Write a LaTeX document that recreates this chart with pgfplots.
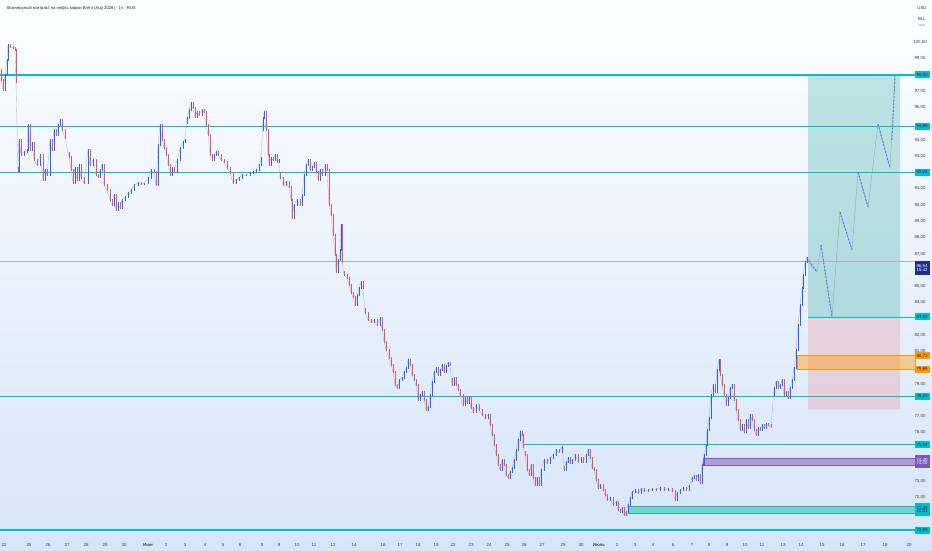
\documentclass[border=0pt]{standalone}
\usepackage{pgfplots}
\pgfplotsset{compat=1.18}
\usepackage{pgfplotstable}
\usepackage{fontspec}
\setmainfont{Liberation Sans}
\definecolor{tvcyan}{RGB}{0,188,212}
\definecolor{tvup}{RGB}{41,98,255}
\definecolor{tvdn}{RGB}{225,85,100}
\definecolor{wick}{RGB}{150,158,190}
\definecolor{bgtop}{RGB}{253,254,255}
\definecolor{bgbot}{RGB}{214,229,248}
\definecolor{tvorange}{RGB}{255,152,0}
\definecolor{tvpurple}{RGB}{126,87,194}
\definecolor{tvteal}{RGB}{38,166,154}
\definecolor{tvred}{RGB}{242,54,69}
\definecolor{navy}{RGB}{26,46,150}
\newcommand{\tl}{\fontsize{4.4}{5}\selectfont}

\pgfplotstableread{
x o c
1 98.30 97.69
3 97.69 97.08
5 97.08 98.00
7 98.00 98.92
8 98.92 99.85
10 99.85 99.72
13 99.72 99.66
15 99.66 99.54
16 99.54 97.57
18 92.30 92.03
19 92.03 94.00
21 94.00 93.08
24 93.08 93.26
27 93.26 93.38
28 93.38 94.92
30 94.92 93.38
32 93.38 93.82
34 93.82 92.77
37 92.77 92.46
40 92.46 93.08
43 93.08 91.54
45 91.54 92.15
47 92.15 91.85
50 91.85 94.00
52 94.00 93.38
54 93.38 94.62
56 94.62 94.31
58 94.31 94.92
60 94.92 95.23
62 95.23 94.62
65 94.62 94.12
69 93.20 92.95
71 92.95 92.15
73 92.15 91.35
75 91.35 92.28
77 92.28 91.54
79 91.54 92.46
81 92.46 91.66
84 91.66 91.35
88 91.35 93.38
90 93.38 92.46
93 92.46 92.77
96 92.77 91.85
98 91.85 91.72
100 91.72 92.15
102 92.15 92.46
104 92.46 91.23
107 91.23 90.92
110 90.92 90.31
112 90.31 90.00
114 90.00 90.62
116 90.62 89.69
118 89.69 90.12
120 90.12 89.82
122 89.82 90.31
125 90.31 90.49
128 90.49 90.74
131 90.74 90.92
134 90.92 91.23
138 91.23 91.35
141 91.35 91.29
144 91.29 91.32
148 91.32 91.66
151 91.66 92.15
154 92.15 92.03
156 92.03 91.23
158 91.23 93.69
160 93.69 94.92
162 94.92 94.00
164 94.00 93.51
166 93.51 93.08
168 93.08 92.46
170 92.46 91.85
172 91.85 92.28
174 92.28 92.03
177 92.03 92.77
180 92.77 93.51
183 93.51 93.88
185 93.88 94.00
187 95.00 95.35
189 95.35 95.85
191 95.85 96.28
193 96.28 95.97
195 95.97 95.42
197 95.42 95.72
199 95.72 95.54
202 95.54 95.85
204 95.85 95.72
206 95.72 94.92
208 94.92 94.31
210 94.31 93.08
212 93.08 92.77
214 92.77 93.08
216 93.08 93.26
218 93.26 93.08
221 93.08 92.77
224 92.77 92.65
227 92.65 92.28
230 92.28 91.97
233 91.97 91.35
236 91.35 91.54
239 91.54 91.66
242 91.66 91.85
246 91.85 91.80
250 91.80 91.97
253 91.97 92.03
256 92.03 92.15
259 92.15 92.46
261 92.46 92.89
263 94.60 95.35
264 95.35 95.72
266 95.72 94.62
268 94.62 93.08
269 93.08 92.46
271 92.46 92.89
273 92.89 92.77
275 92.77 93.08
277 93.08 92.65
279 92.65 92.77
280 92.00 91.66
283 91.66 91.23
286 91.23 91.42
289 91.42 91.11
291 91.11 90.31
292 90.31 89.20
294 89.20 90.00
297 90.00 90.31
300 90.31 90.00
302 90.00 90.62
304 90.62 91.85
306 91.85 92.46
308 92.46 92.77
310 92.77 92.15
312 92.15 92.34
314 92.34 92.58
316 92.58 92.03
318 92.03 91.54
320 91.54 92.15
322 92.15 91.85
325 91.85 92.46
327 92.46 92.15
329 92.15 90.00
331 90.00 89.38
333 89.38 88.15
335 88.15 86.92
336 86.92 85.88
338 85.88 86.62
340 86.62 87.23
341 87.23 88.77
342 88.77 86.49
344 85.90 85.69
347 85.69 85.51
349 85.51 85.08
351 85.08 84.58
353 84.58 84.34
355 84.34 83.85
357 83.85 84.46
359 84.46 84.89
361 84.89 85.26
363 85.26 84.89
365 83.60 83.35
368 83.35 82.92
371 82.92 82.80
374 82.80 82.92
377 82.92 82.62
380 82.62 83.05
382 83.05 82.31
384 82.31 81.57
386 81.57 81.08
389 81.08 80.58
391 80.58 80.15
393 80.15 79.72
395 79.72 78.92
397 78.92 78.74
399 78.74 79.23
402 79.23 79.35
404 79.35 79.72
406 79.72 79.97
408 79.97 80.46
410 80.46 80.15
412 80.15 79.54
414 79.54 79.23
416 79.23 78.92
418 78.92 78.00
420 78.00 78.31
422 78.31 78.49
424 78.49 78.00
426 78.00 77.38
428 77.38 77.57
430 77.57 78.31
432 78.31 79.11
434 79.11 79.72
436 79.72 79.97
438 79.97 79.54
440 79.54 79.85
442 79.85 80.15
444 80.15 79.72
446 79.72 80.09
448 80.09 80.28
450 80.28 80.15
452 79.30 78.92
454 78.92 79.35
456 79.35 78.92
458 78.92 78.62
460 78.62 78.31
463 78.31 77.69
465 77.69 78.12
467 78.12 77.82
469 77.82 78.18
471 78.18 77.51
473 77.51 77.26
476 77.26 77.69
479 77.69 77.38
482 77.38 77.08
485 77.08 76.89
488 76.89 77.08
490 77.08 76.46
492 76.46 75.85
494 75.85 75.23
496 75.23 74.62
498 74.62 74.00
500 74.00 73.69
502 73.69 74.31
504 74.31 74.00
506 74.00 73.38
508 73.38 73.20
510 73.20 73.57
512 73.57 73.82
514 73.82 74.31
516 74.31 74.92
518 74.92 75.54
520 75.54 76.03
522 76.03 75.85
523 75.85 75.11
525 74.80 74.62
527 74.62 73.69
529 73.69 73.38
531 73.38 74.00
533 74.00 73.20
535 73.20 72.77
537 72.77 73.20
539 73.20 72.77
541 72.77 73.69
544 73.69 74.31
547 74.31 74.12
550 74.12 74.43
553 74.43 74.62
556 74.62 74.92
559 74.92 74.80
562 74.80 75.11
564 73.90 73.69
566 73.69 74.18
568 74.18 74.43
570 74.43 74.12
572 74.12 74.31
575 74.31 74.62
578 74.62 74.18
581 74.18 74.43
583 74.43 74.18
586 74.18 74.62
588 74.62 74.92
590 74.92 74.43
592 74.43 73.82
594 73.82 73.69
596 73.69 73.08
598 73.08 72.58
600 72.58 72.77
603 72.77 72.46
605 72.46 72.15
607 72.15 71.85
610 71.85 71.97
613 71.97 71.54
616 71.54 71.72
618 71.72 71.23
620 71.23 71.11
622 71.11 71.35
624 71.35 70.92
626 70.92 71.11
628 71.11 71.54
630 71.54 71.97
632 71.97 72.34
635 72.34 72.46
638 72.46 72.28
641 72.28 72.52
644 72.52 72.40
648 72.40 72.46
652 72.46 72.52
656 72.52 72.46
660 72.46 72.58
664 72.58 72.46
668 72.46 72.52
672 72.52 72.40
675 72.40 71.85
677 71.85 72.28
680 72.28 72.46
683 72.46 72.58
686 72.58 72.46
689 72.46 72.71
692 73.00 73.20
694 73.20 73.32
696 73.32 73.08
698 73.08 73.38
700 73.38 72.89
702 72.89 74.00
704 74.00 74.62
706 74.62 75.23
707 75.23 76.15
709 76.15 76.89
711 76.89 78.31
713 78.31 78.92
715 78.92 78.49
717 78.49 79.85
719 79.85 80.46
720 80.46 79.54
722 79.54 78.92
724 78.92 78.31
726 78.31 77.69
728 77.69 78.12
730 78.12 78.74
732 78.74 78.92
734 78.92 78.00
736 78.00 77.38
738 77.38 76.77
740 76.77 76.15
742 76.15 76.46
744 76.46 76.03
746 76.03 76.77
748 76.77 76.28
750 76.28 77.08
752 77.08 76.77
754 76.77 76.15
756 76.15 75.85
758 75.85 76.28
760 76.28 76.15
762 76.15 76.46
764 76.46 76.28
766 76.28 76.52
768 76.52 76.46
771 76.46 76.34
774 78.30 78.74
776 78.74 79.11
778 79.11 78.74
780 78.74 78.92
782 78.92 79.23
784 79.23 78.31
786 78.31 78.49
788 78.49 78.12
790 78.12 78.74
792 78.74 79.23
794 79.23 79.97
796 79.97 81.08
798 81.08 82.62
800 82.62 83.85
802 83.85 84.89
803 84.89 85.69
805 85.69 86.49
807 86.49 86.74
}\candles

\pgfplotstableread{
x y
807 86.74
810 86.40
813 86.12
817 85.88
821 87.54
832 83.11
840 89.57
852 87.23
858 92.03
868 89.88
878 94.98
890 92.28
895 97.95
}\projection

\pgfplotstableread{
x y
807 86.74
817 85.88
nan nan
821 87.54
832 83.11
nan nan
840 89.57
852 87.23
nan nan
858 92.03
868 89.88
nan nan
878 94.98
890 92.28
nan nan
892 94.00
895 97.95
}\projdown

\begin{document}
\begin{tikzpicture}
\useasboundingbox (0,0) rectangle (932pt,550pt);
\begin{axis}[
  at={(0,0)}, anchor=south west,
  scale only axis, width=932pt, height=550pt,
  xmin=0, xmax=932, ymin=68.769, ymax=102.615,
  axis line style={draw=none},
  axis background/.style={shade, top color=bgtop, bottom color=bgbot},
  major tick length=0pt,
  ytick={72,73,76,77,79,81,82,84,85,87,88,89,90,91,93,94,96,97,99,100},
  yticklabel pos=right,
  yticklabel style={anchor=center, xshift=-12pt, font=\tl, text=black!75,
     /pgf/number format/.cd, fixed, fixed zerofill, precision=2, use comma, assume math mode=true},
  xtick={4,29,48,67,86,105,124,148,166,185,205,223,240,262,279,297,314,333,354,383,400,418,436,453,471,489,507,524,542,563,581,599,617,635,653,673,692,709,727,745,762,783,801,822,842,863,885,909},
  xticklabels={22,25,26,27,28,29,30,\textbf{Июн},2,3,4,5,6,8,9,10,11,12,14,16,17,18,19,22,23,24,25,26,27,29,30,\textbf{Июль},2,3,4,6,7,8,9,10,11,13,14,15,16,17,18,20},
  xticklabel style={anchor=center, yshift=5pt, font=\tl, text=black!75},
  clip=false,
  unbounded coords=jump,
]
% target and stop boxes
\addplot[draw=none, fill=tvteal, fill opacity=0.28, forget plot] coordinates {(808,98) (900,98) (900,83.11) (808,83.11) (808,98)};
\addplot[draw=none, fill=tvred, fill opacity=0.16, forget plot] coordinates {(808,83.11) (900,83.11) (900,77.42) (808,77.42) (808,83.11)};
% zones
\addplot[draw=tvorange, line width=0.7pt, fill=tvorange, fill opacity=0.4, forget plot] coordinates {(797,80.72) (915,80.72) (915,79.88) (797,79.88) (797,80.72)};
\addplot[draw=tvpurple, line width=0.7pt, fill=tvpurple!70, fill opacity=0.8, forget plot] coordinates {(703,74.40) (915,74.40) (915,74.00) (703,74.00) (703,74.40)};
\addplot[draw=tvteal!80!green, line width=0.7pt, fill=tvcyan!60!tvteal!70, fill opacity=0.75, forget plot] coordinates {(628,71.45) (915,71.45) (915,71.04) (628,71.04) (628,71.45)};
% current price line
\addplot[black!30, line width=0.35pt, forget plot] coordinates {(0,86.54) (915,86.54)};
% horizontal levels
\addplot[tvcyan, line width=1.3pt, forget plot] coordinates {(0,98) (915,98)};
\addplot[tvcyan, line width=1.3pt, forget plot] coordinates {(0,94.85) (915,94.85)};
\addplot[tvcyan, line width=1.3pt, forget plot] coordinates {(0,92.02) (915,92.02)};
\addplot[tvcyan, line width=1.3pt, forget plot] coordinates {(0,78.22) (915,78.22)};
\addplot[tvcyan, line width=1.3pt, forget plot] coordinates {(0,70.00) (915,70.00)};
\addplot[tvcyan, line width=0.8pt, forget plot] coordinates {(523,75.24) (915,75.24)};
\addplot[tvcyan, line width=0.8pt, forget plot] coordinates {(808,83.11) (915,83.11)};
% wicks / path
\addplot[wick, line width=0.35pt, opacity=0.7, forget plot] table[x=x, y=c] {\candles};
% up candles
\addplot[tvup, draw=none, mark=none, forget plot,
  x filter/.expression={\thisrow{c}<\thisrow{o} ? nan : x},
  error bars/.cd, y dir=both, y explicit, error mark=none,
  error bar style={draw=tvup, solid, line width=0.8pt}]
  table[x=x, y expr={(\thisrow{o}+\thisrow{c})/2}, y error expr={abs(\thisrow{c}-\thisrow{o})/2+0.04}] {\candles};
% down candles
\addplot[tvdn, draw=none, mark=none, forget plot,
  x filter/.expression={\thisrow{c}<\thisrow{o} ? x : nan},
  error bars/.cd, y dir=both, y explicit, error mark=none,
  error bar style={draw=tvdn, solid, line width=0.8pt}]
  table[x=x, y expr={(\thisrow{o}+\thisrow{c})/2}, y error expr={abs(\thisrow{c}-\thisrow{o})/2+0.04}] {\candles};
% projection
\addplot[wick, line width=0.4pt, forget plot] table[x=x, y=y] {\projection};
\addplot[tvup, line width=0.9pt, dash pattern=on 2pt off 1.5pt, opacity=0.75, forget plot] table[x=x, y=y] {\projdown};

% title and header
\node[anchor=west, font=\fontsize{4.2}{5}\selectfont, text=black!85] at (axis cs:3,102.1) {Фьючерсный контракт на нефть марки Brent (Aug 2026) · 1ч · RUS};
\node[font=\tl, text=black!75] at (axis cs:922,102.1) {USD};
\node[font=\tl, text=black!75] at (axis cs:922,101.45) {BLL};
\node[font=\fontsize{2.8}{3}\selectfont, text=black!55] at (axis cs:922,101.05) {RUS};

% price labels
\tikzset{plab/.style={fill=tvcyan, text=black!85, font=\tl, inner sep=0pt, minimum width=15pt, minimum height=7pt}}
\node[plab] at (axis cs:922,98) {98,00};
\node[plab] at (axis cs:922,94.85) {94,85};
\node[plab] at (axis cs:922,92.02) {92,02};
\node[plab] at (axis cs:922,83.11) {83,11};
\node[plab, fill=tvorange] at (axis cs:922,80.72) {80,72};
\node[plab, fill=tvorange] at (axis cs:922,79.88) {79,88};
\node[plab] at (axis cs:922,78.22) {78,22};
\node[plab] at (axis cs:922,75.24) {75,24};
\node[plab, fill=tvpurple, text=white, minimum height=13pt, align=center] at (axis cs:922,74.20) {74,40\\[-1.2pt]74,00};
\node[plab, minimum height=13pt, align=center] at (axis cs:922,71.25) {71,45\\[-1.2pt]71,04};
\node[plab] at (axis cs:922,70.00) {70,00};
\node[plab, fill=navy, text=white, minimum height=14pt, align=center] at (axis cs:922,86.10) {86,54\\[-1.2pt]15:42};
\end{axis}
\end{tikzpicture}
\end{document}
